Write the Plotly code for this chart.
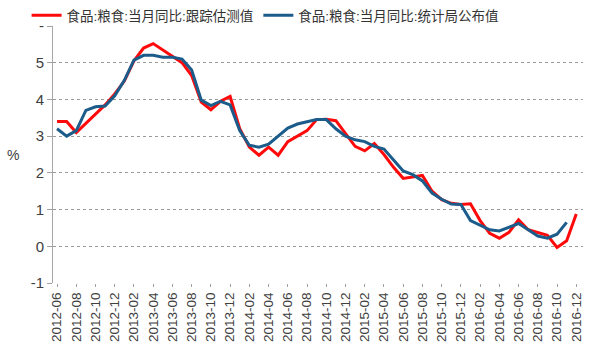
import plotly.graph_objects as go

months = [f"{y}-{m:02d}" for y in range(2012, 2017) for m in range(1, 13)][5:]

tracked = [3.4, 3.4, 3.1, 3.35, 3.6, 3.85, 4.15, 4.5, 5.05, 5.4, 5.52, 5.35, 5.17, 5.0, 4.65,
           3.93, 3.72, 3.95, 4.08, 3.2, 2.7, 2.48, 2.7, 2.48, 2.85, 3.0, 3.15, 3.45, 3.46, 3.42,
           3.07, 2.72, 2.6, 2.8, 2.5, 2.15, 1.85, 1.88, 1.93, 1.5, 1.27, 1.17, 1.14, 1.16, 0.7,
           0.35, 0.22, 0.38, 0.72, 0.45, 0.37, 0.3, -0.03, 0.15, 0.88]
official = [3.2, 3.0, 3.15, 3.7, 3.8, 3.82, 4.1, 4.52, 5.07, 5.2, 5.2, 5.15, 5.15, 5.1, 4.8,
            3.98, 3.83, 3.95, 3.85, 3.15, 2.75, 2.7, 2.78, 3.0, 3.22, 3.33, 3.38, 3.45, 3.45, 3.2,
            3.0, 2.9, 2.85, 2.72, 2.65, 2.35, 2.05, 1.95, 1.78, 1.45, 1.28, 1.15, 1.14, 0.7, 0.58,
            0.45, 0.42, 0.52, 0.62, 0.45, 0.28, 0.22, 0.33, 0.65, None]

name_red = "食品:粮食:当月同比:跟踪估测值"
name_blue = "食品:粮食:当月同比:统计局公布值"
y_ticks = [-1, 0, 1, 2, 3, 4, 5, 6]
y_ticktext = ["-1", "0", "1", "2", "3", "4", "5", "-"]

FONT = "Liberation Sans, Arial, Noto Sans CJK SC, sans-serif"

fig = go.Figure()
fig.add_trace(go.Scatter(x=months, y=tracked, mode="lines", name=name_red,
                         line=dict(color="#FF0A0A", width=3)))
fig.add_trace(go.Scatter(x=months, y=official, mode="lines", name=name_blue,
                         line=dict(color="#1B5C8B", width=3)))

fig.update_layout(
    width=591, height=352,
    margin=dict(l=53, r=8, t=26, b=69, autoexpand=False),
    paper_bgcolor="white", plot_bgcolor="white",
    font=dict(family=FONT, size=14, color="#404040"),
    showlegend=True,
    legend=dict(orientation="h", xref="container", yref="container", x=0.045, y=1.0,
                xanchor="left", yanchor="top", font=dict(size=13.5, color="#333333"),
                itemwidth=30, bgcolor="rgba(0,0,0,0)", tracegroupgap=0,
                itemclick=False),
    xaxis=dict(type="category", range=[-0.42, 54.7], tickvals=months[::2],
               tickangle=-90, showgrid=False, showline=False, zeroline=False,
               ticks="outside", ticklen=3, tickcolor="#A0A0A0",
               tickfont=dict(size=13.5, color="#404040")),
    yaxis=dict(range=[-1, 6], tickvals=y_ticks, ticktext=y_ticktext,
               showgrid=True, gridcolor="#9A9A9A", griddash="dot", gridwidth=1,
               zeroline=False, showline=True, linecolor="#A6A6A6", linewidth=1,
               ticks="outside", ticklen=5, tickcolor="#A0A0A0",
               tickfont=dict(size=15, color="#404040")),
    annotations=[dict(text="%", xref="paper", yref="y", x=-0.075, y=2.48,
                      xanchor="center", yanchor="middle", showarrow=False,
                      font=dict(size=14, color="#404040"))],
)

fig.write_html("out.html")
